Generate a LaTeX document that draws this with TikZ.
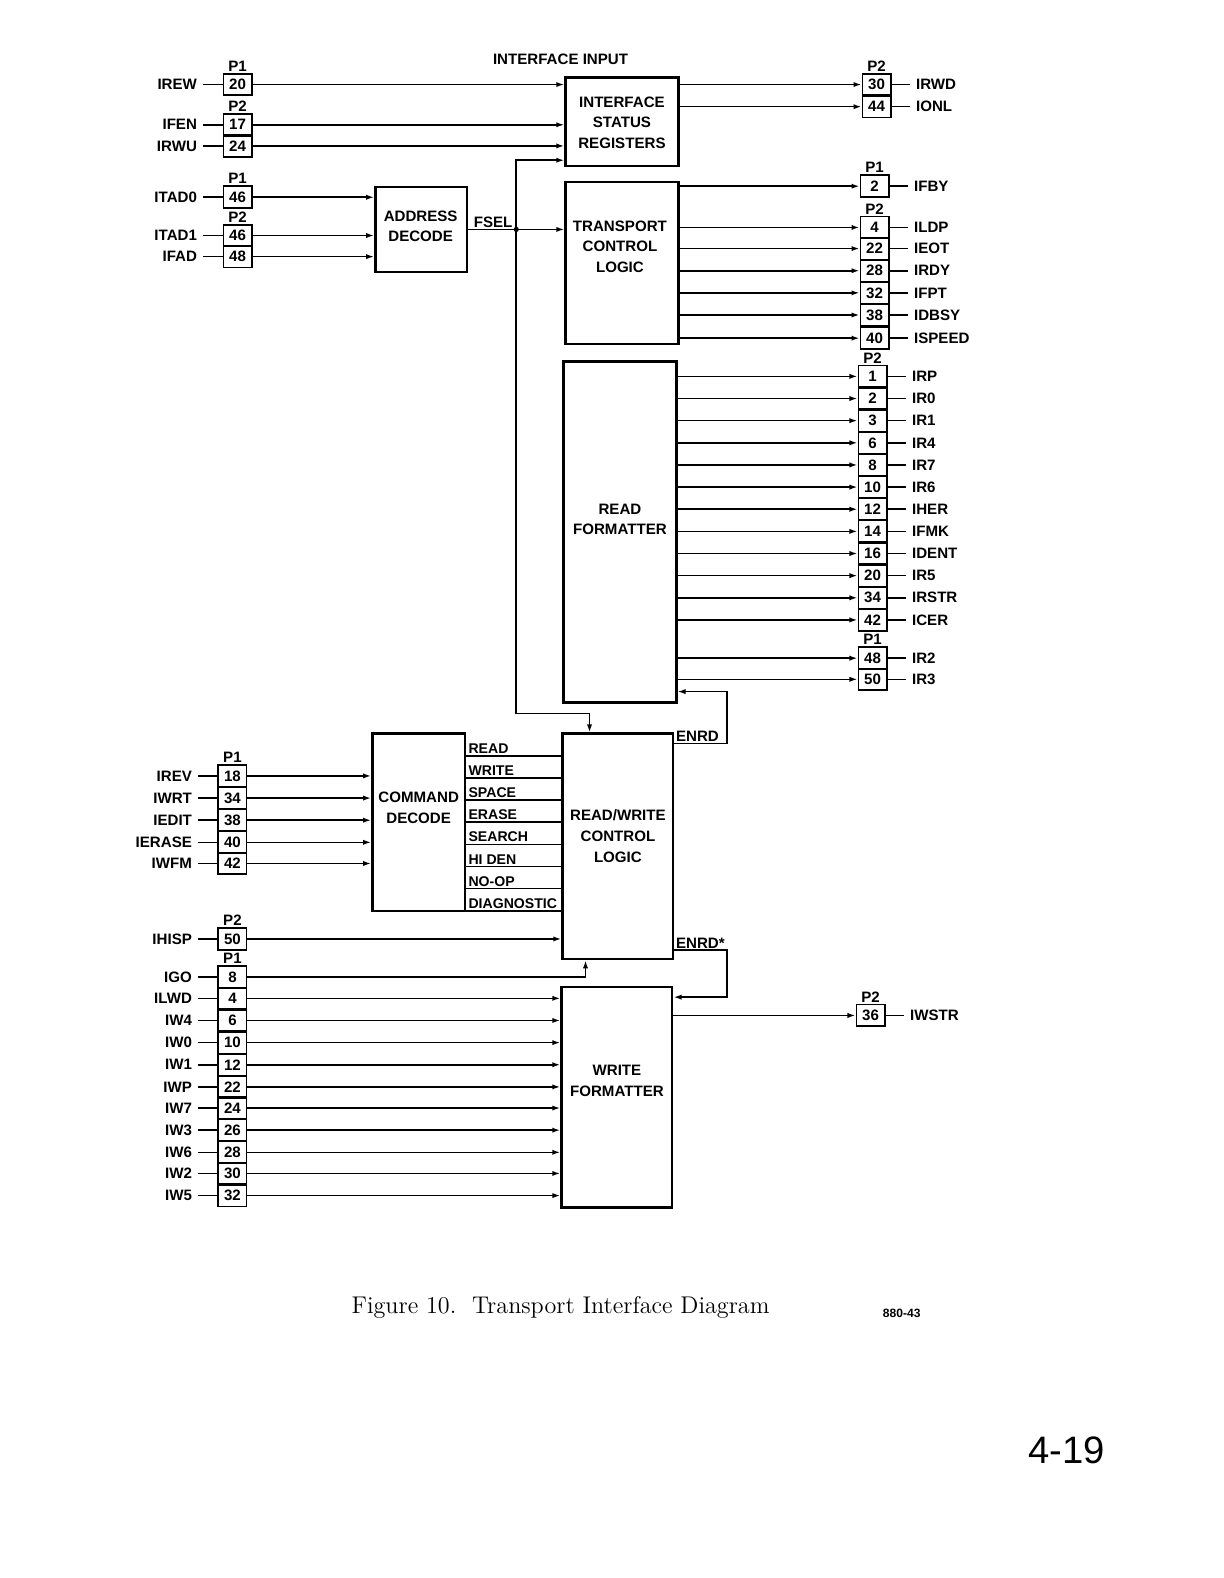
\documentclass[tikz,border=0pt]{standalone}
\usepackage{fontspec}
\setsansfont{Liberation Sans}
\usetikzlibrary{arrows.meta,positioning,fit}

\begin{document}
\begin{tikzpicture}[
  x=0.5pt, y=-0.5pt,
  font=\sffamily\bfseries\fontsize{7.5}{8.5}\selectfont,
  block/.style={draw,line width=1.2pt,inner sep=0pt},
  blocktext/.style={align=center,font=\sffamily\bfseries\fontsize{7.5}{10.3}\selectfont},
  pin/.style={draw,line width=0.9pt,minimum width=14pt,minimum height=10.8pt,inner sep=0pt},
  sig/.style={inner sep=3pt},
  plab/.style={inner sep=0.6pt},
  cmdout/.style={inner sep=1pt,anchor=south west,font=\sffamily\bfseries\fontsize{7}{8}\selectfont},
  wire/.style={line width=0.8pt},
  arrow/.style={wire,-{Latex[length=4pt,width=2.6pt]}}
]
  \fill[white] (0,0) rectangle (1216,1568);

  % function blocks
  \node[block,fit={(562,77) (674,165)}] (isr) {};
  \node[blocktext] (isrtext) at (618,122) {INTERFACE\\STATUS\\REGISTERS};
  \node[block,fit={(373,186) (464,270)}] (adec) {};
  \node[blocktext] (adectext) at (418,225) {ADDRESS\\DECODE};
  \node[block,fit={(562,181) (674,342)}] (tcl) {};
  \node[blocktext] (tcltext) at (616,245) {TRANSPORT\\CONTROL\\LOGIC};
  \node[block,fit={(560,359) (672,698)}] (rf) {};
  \node[blocktext] (rftext) at (616,516) {READ\\FORMATTER};
  \node[block,fit={(370,729) (462,905)}] (cd) {};
  \node[blocktext] (cdtext) at (416,803) {COMMAND\\DECODE};
  \node[block,fit={(559,729) (669,953)}] (rw) {};
  \node[blocktext] (rwtext) at (614,831) {READ/WRITE\\CONTROL\\LOGIC};
  \node[block,fit={(558,981) (668,1200)}] (wf) {};
  \node[blocktext] (wftext) at (613,1074) {WRITE\\FORMATTER};

  \node (title) at (557,59) {INTERFACE INPUT};

  % input connector pins
  \foreach \x/\y/\n/\s/\b in {
      236/84/20/IREW/isr, 236/124/17/IFEN/isr, 236/145/24/IRWU/isr,
      236/196/46/ITAD0/adec, 236/234/46/ITAD1/adec, 236/255/48/IFAD/adec,
      231/771/18/IREV/cd, 231/793/34/IWRT/cd, 231/815/38/IEDIT/cd,
      231/837/40/IERASE/cd, 231/858/42/IWFM/cd,
      231/933/50/IHISP/rw,
      231/992/4/ILWD/wf, 231/1014/6/IW4/wf, 231/1036/10/IW0/wf,
      231/1058/12/IW1/wf, 231/1080/22/IWP/wf, 231/1101/24/IW7/wf,
      231/1123/26/IW3/wf, 231/1145/28/IW6/wf, 231/1166/30/IW2/wf,
      231/1188/32/IW5/wf}{
    \node[pin] (p\s) at (\x,\y) {\n};
    \node[sig,left=9.5pt of p\s] (s\s) {\s};
    \draw[wire] (s\s) -- (p\s);
    \draw[arrow] (p\s) -- (p\s -| \b.west);
  }
  \node[pin] (pIGO) at (231,971) {8};
  \node[sig,left=9.5pt of pIGO] (sIGO) {IGO};
  \draw[wire] (sIGO) -- (pIGO);
  \draw[arrow] (pIGO) -| ([xshift=12pt]rw.south west);

  % output connector pins
  \foreach \x/\y/\n/\s/\b in {
      871/84/30/IRWD/isr, 871/106/44/IONL/isr,
      869/185/2/IFBY/tcl, 869/226/4/ILDP/tcl, 869/247/22/IEOT/tcl,
      869/269/28/IRDY/tcl, 869/291/32/IFPT/tcl, 869/313/38/IDBSY/tcl,
      869/336/40/ISPEED/tcl,
      867/374/1/IRP/rf, 867/396/2/IR0/rf, 867/418/3/IR1/rf, 867/440/6/IR4/rf,
      867/462/8/IR7/rf, 867/484/10/IR6/rf, 867/506/12/IHER/rf,
      867/528/14/IFMK/rf, 867/550/16/IDENT/rf, 867/572/20/IR5/rf,
      867/594/34/IRSTR/rf, 867/616/42/ICER/rf,
      867/654/48/IR2/rf, 867/675/50/IR3/rf,
      865/1009/36/IWSTR/wf}{
    \node[pin] (p\s) at (\x,\y) {\n};
    \node[sig,right=9pt of p\s] (s\s) {\s};
    \draw[wire] (p\s) -- (s\s);
    \draw[arrow] (p\s -| \b.east) -- (p\s);
  }

  % connector names
  \foreach \s/\c in {IREW/P1, IFEN/P2, ITAD0/P1, ITAD1/P2, IREV/P1, IHISP/P2,
      IGO/P1, IRWD/P2, IFBY/P1, ILDP/P2, IRP/P2, IR2/P1, IWSTR/P2}
    \node[plab,above=0pt of p\s] (l\s) {\c};

  % command decode outputs
  \foreach \t [count=\i from 0] in {READ,WRITE,SPACE,ERASE,SEARCH,HI DEN,NO-OP,DIAGNOSTIC}{
    \pgfmathsetmacro\yy{751+22*\i}
    \node[cmdout] (c\i) at (cd.east |- 0,\yy) {\t};
    \draw[wire] (c\i.south west) -- (c\i.south west -| rw.west);
  }

  % FSEL
  \draw[arrow] (adec.east) -- (adec.east -| tcl.west);
  \node[plab,anchor=south west] (fsel) at ([xshift=2pt]adec.east) {FSEL};
  \coordinate (fj) at (adec.east -| 513,0);
  \fill (fj) circle (1.3pt);
  \draw[arrow] (fj) |- ([yshift=3.5pt]isr.south west);
  \draw[arrow] (fj) |- ([xshift=14pt,yshift=9.5pt]rw.north west) -- ([xshift=14pt]rw.north west);

  % ENRD loops
  \draw[arrow] ([yshift=-5.5pt]rw.north east) -- ++(26pt,0) |- ([yshift=6pt]rf.south east);
  \node[plab,anchor=south west] (enrd) at ([yshift=-5.5pt]rw.north east) {ENRD};
  \draw[arrow] ([yshift=5pt]rw.south east) -- ++(26pt,0) |- ([yshift=-5.5pt]wf.north east);
  \node[plab,anchor=south west] (enrdn) at ([yshift=5pt]rw.south east) {ENRD*};

  % caption
  \node[font=\rmfamily\fontsize{12}{14}\selectfont] (caption) at (557,1299)
    {Figure 10.\ \ Transport Interface Diagram};
  \node[font=\sffamily\bfseries\fontsize{6}{7}\selectfont] (code) at (896,1305) {880-43};
  \node[font=\sffamily\fontsize{19}{22}\selectfont] (pageno) at (1060,1441) {4-19};
\end{tikzpicture}
\end{document}
